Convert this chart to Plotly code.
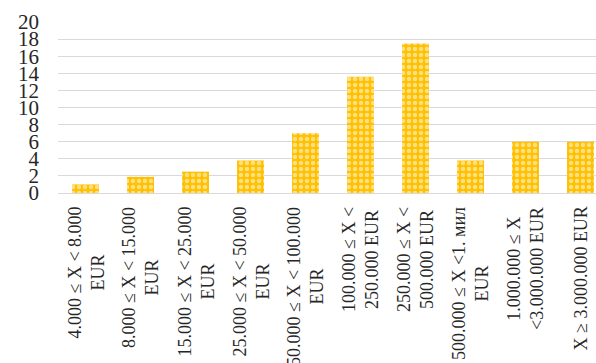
import plotly.graph_objects as go

categories = [
    "4.000 ≤ X < 8.000\nEUR",
    "8.000 ≤ X < 15.000\nEUR",
    "15.000 ≤ X < 25.000\nEUR",
    "25.000 ≤ X < 50.000\nEUR",
    "50.000 ≤ X < 100.000\nEUR",
    "100.000 ≤ X <\n250.000 EUR",
    "250.000 ≤ X <\n500.000 EUR",
    "500.000 ≤ X <1. мил\nEUR",
    "1.000.000 ≤ X\n<3.000.000 EUR",
    "X ≥ 3.000.000 EUR",
]
values = [1.0, 1.9, 2.5, 3.8, 7.0, 13.6, 17.5, 3.8, 6.0, 6.0]
y_ticks = list(range(0, 21, 2))

SERIF = "Liberation Serif, Times New Roman, serif"

fig = go.Figure()
fig.add_trace(go.Bar(
    x=categories,
    y=values,
    marker=dict(
        color="#FFC000",
        line=dict(width=0),
        pattern=dict(shape=".", fgcolor="white", bgcolor="#FFC000",
                     size=6, solidity=0.45, fillmode="overlay"),
    ),
    width=0.49,
))

def esc(s):
    return s.replace("<", "&lt;").replace("\n", "<br>")

for c in categories:
    fig.add_annotation(
        x=c, y=0, xref="x", yref="paper",
        text=esc(c), textangle=-90,
        showarrow=False, xanchor="center", yanchor="top", yshift=-12,
        align="center",
        font=dict(family=SERIF, size=18, color="#262626"),
    )

fig.update_layout(
    width=596, height=363,
    margin=dict(l=58, r=0, t=22, b=170, autoexpand=False),
    paper_bgcolor="white", plot_bgcolor="white",
    showlegend=False,
    bargap=0.51,
)
fig.update_xaxes(
    type="category",
    range=[-0.5, 9.5 - 12 / 55],
    showticklabels=False, showgrid=False, zeroline=False, showline=False,
    ticks="",
)
fig.update_yaxes(
    range=[0, 20],
    tickvals=y_ticks,
    ticktext=[str(v) for v in y_ticks],
    showgrid=True, gridcolor="#D9D9D9", gridwidth=1,
    zeroline=True, zerolinecolor="#D9D9D9", zerolinewidth=1,
    showline=False,
    ticks="", ticklabelstandoff=18,
    tickfont=dict(family=SERIF, size=21, color="#262626"),
)

fig.write_html(
    "out.html",
    config={"displayModeBar": False},
    post_script="document.body.style.margin='0px';document.body.style.overflow='hidden';",
)
